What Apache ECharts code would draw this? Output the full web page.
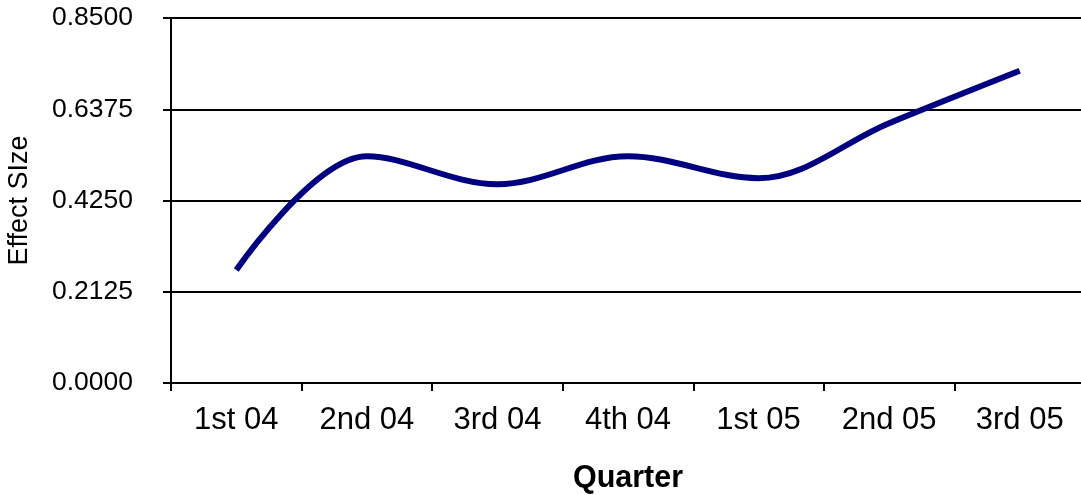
<!DOCTYPE html>
<html>
<head>
<meta charset="utf-8">
<script src="https://cdn.jsdelivr.net/npm/echarts@6/dist/echarts.min.js"></script>
<style>
html,body{margin:0;padding:0;background:#fff;}
#chart{width:1081px;height:495px;}
</style>
</head>
<body>
<div id="chart"></div>
<script>
const categories = ['1st 04','2nd 04','3rd 04','4th 04','1st 05','2nd 05','3rd 05'];
const effectSize = [0.263, 0.528, 0.463, 0.528, 0.477, 0.605, 0.727];
const yTicks = [0, 0.2125, 0.425, 0.6375, 0.85];

const chart = echarts.init(document.getElementById('chart'));
const font = '"Liberation Sans", Arial, sans-serif';
chart.setOption({
  animation: false,
  backgroundColor: '#ffffff',
  grid: { left: 171, right: -4, top: 18, bottom: 112, containLabel: false, outerBoundsMode: 'none' },
  xAxis: {
    type: 'category',
    data: categories,
    boundaryGap: true,
    name: 'Quarter',
    nameLocation: 'middle',
    nameGap: 80,
    nameTextStyle: { fontFamily: font, fontSize: 30.5, fontWeight: 'bold', color: '#000', verticalAlign: 'top' },
    axisLine: { lineStyle: { color: '#000', width: 2 } },
    axisTick: { show: true, alignWithLabel: false, length: 8, lineStyle: { color: '#000', width: 2 } },
    axisLabel: { fontFamily: font, fontSize: 31, color: '#000', margin: 22 },
    splitLine: { show: false }
  },
  yAxis: {
    type: 'value',
    min: yTicks[0],
    max: yTicks[yTicks.length - 1],
    interval: yTicks[1],
    name: 'Effect SIze',
    nameLocation: 'middle',
    nameGap: 138,
    nameTextStyle: { fontFamily: font, fontSize: 27, color: '#000' },
    axisLine: { show: true, lineStyle: { color: '#000', width: 2 } },
    axisTick: { show: true, length: 8, lineStyle: { color: '#000', width: 2 } },
    axisLabel: { fontFamily: font, fontSize: 26.5, color: '#000', margin: 38, formatter: v => v.toFixed(4) },
    splitLine: { show: true, lineStyle: { color: '#000', width: 2 } }
  },
  series: [{
    type: 'line',
    data: effectSize,
    smooth: 0.35,
    showSymbol: false,
    symbol: 'none',
    lineStyle: { color: '#000080', width: 6, cap: 'butt' }
  }]
});
</script>
</body>
</html>
